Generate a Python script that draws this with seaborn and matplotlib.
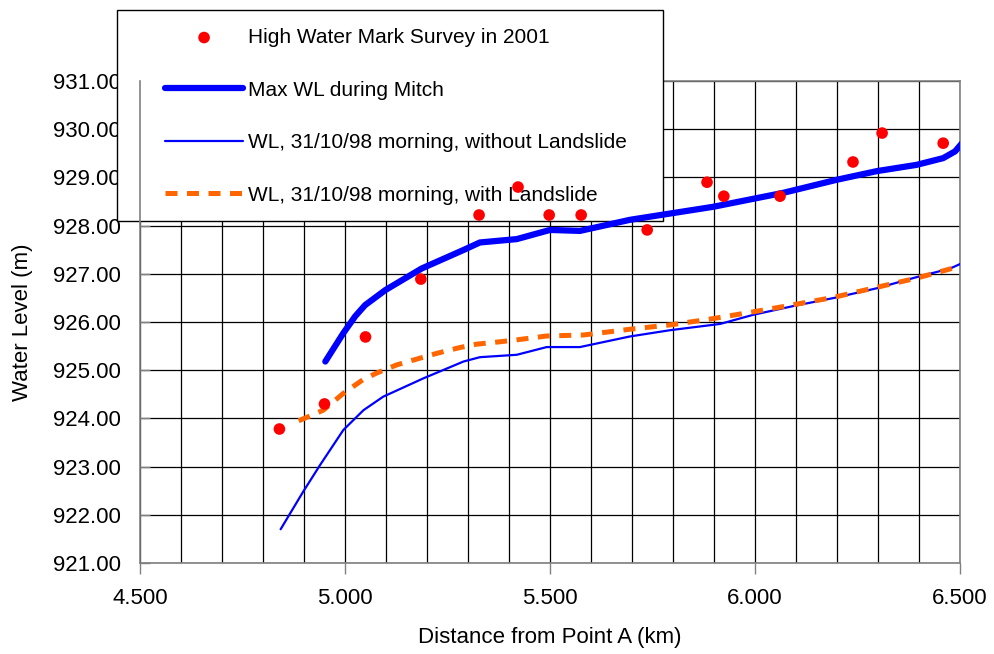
import numpy as np
import pandas as pd
import matplotlib
matplotlib.use("Agg")
import matplotlib.pyplot as plt
import seaborn as sns
from matplotlib.patches import Rectangle
from matplotlib.ticker import MultipleLocator, FormatStrFormatter

# ---- data ----
survey_x = [4.84, 4.95, 5.05, 5.185, 5.327, 5.422, 5.498, 5.576, 5.737, 5.883, 5.924, 6.061, 6.239, 6.31, 6.459]
survey_y = [923.78, 924.30, 925.69, 926.89, 928.22, 928.80, 928.22, 928.22, 927.91, 928.90, 928.61, 928.61, 929.32, 929.92, 929.71]

maxwl_x = [4.952, 4.996, 5.025, 5.049, 5.098, 5.187, 5.288, 5.329, 5.419, 5.500, 5.573, 5.695, 5.785, 5.898, 6.069, 6.199, 6.297, 6.394, 6.459, 6.488, 6.51]
maxwl_y = [925.18, 925.77, 926.12, 926.35, 926.66, 927.11, 927.49, 927.65, 927.72, 927.91, 927.89, 928.12, 928.24, 928.39, 928.68, 928.95, 929.13, 929.26, 929.40, 929.54, 929.76]

nols_x = [4.843, 4.898, 4.939, 4.996, 5.045, 5.093, 5.191, 5.289, 5.329, 5.419, 5.492, 5.573, 5.695, 5.793, 5.915, 5.996, 6.093, 6.199, 6.297, 6.394, 6.476, 6.51]
nols_y = [921.70, 922.48, 923.03, 923.76, 924.17, 924.45, 924.83, 925.18, 925.27, 925.32, 925.48, 925.48, 925.70, 925.83, 925.96, 926.15, 926.33, 926.51, 926.70, 926.93, 927.11, 927.24]

ls_x = [4.887, 4.947, 4.996, 5.045, 5.077, 5.126, 5.183, 5.224, 5.280, 5.321, 5.378, 5.419, 5.492, 5.581, 5.695, 5.793, 5.890, 5.988, 6.069, 6.191, 6.297, 6.394, 6.51]
ls_y = [923.95, 924.17, 924.52, 924.81, 924.94, 925.11, 925.25, 925.35, 925.47, 925.54, 925.59, 925.63, 925.71, 925.73, 925.85, 925.94, 926.06, 926.20, 926.32, 926.51, 926.72, 926.91, 927.18]

labels = ["High Water Mark Survey in 2001", "Max WL during Mitch",
          "WL, 31/10/98 morning, without Landslide", "WL, 31/10/98 morning, with Landslide"]
x_ticks = [4.5, 5.0, 5.5, 6.0, 6.5]
y_ticks = [921, 922, 923, 924, 925, 926, 927, 928, 929, 930, 931]

sns.set_style("white")
plt.rcParams['font.family'] = ['Liberation Sans', 'DejaVu Sans']
plt.rcParams['text.color'] = 'black'
plt.rcParams['axes.labelcolor'] = 'black'
plt.rcParams['xtick.labelcolor'] = 'black'
plt.rcParams['ytick.labelcolor'] = 'black'

W, H = 994, 654
fig = plt.figure(figsize=(W / 100, H / 100), dpi=100)
ax = fig.add_axes([140 / W, 1 - 563 / H, 820 / W, 482 / H])

df_max = pd.DataFrame({"x": maxwl_x, "y": maxwl_y})
df_no = pd.DataFrame({"x": nols_x, "y": nols_y})
df_ls = pd.DataFrame({"x": ls_x, "y": ls_y})
df_sv = pd.DataFrame({"x": survey_x, "y": survey_y})

sns.lineplot(data=df_max, x="x", y="y", ax=ax, sort=False, estimator=None,
             color="#0000FF", lw=4.5, zorder=3)
sns.lineplot(data=df_no, x="x", y="y", ax=ax, sort=False, estimator=None,
             color="#0000FF", lw=1.6, zorder=3)
sns.lineplot(data=df_ls, x="x", y="y", ax=ax, sort=False, estimator=None,
             color="#FF6600", lw=3.6, zorder=3, dashes=False)
ax.lines[-1].set_dashes([2.4, 1.9])
sns.scatterplot(data=df_sv, x="x", y="y", ax=ax, color="#FF0000", s=70,
                edgecolor="none", zorder=4)

ax.set_xlim(4.5, 6.5)
ax.set_ylim(921, 931)
ax.set_xticks(x_ticks)
ax.set_yticks(y_ticks)
ax.xaxis.set_minor_locator(MultipleLocator(0.1))
ax.xaxis.set_major_formatter(FormatStrFormatter('%.3f'))
ax.yaxis.set_major_formatter(FormatStrFormatter('%.2f'))
ax.grid(True, which='both', axis='x', color='black', lw=0.9, zorder=0.5)
ax.grid(True, which='major', axis='y', color='black', lw=0.9, zorder=0.5)
ax.set_axisbelow(True)

ax.tick_params(axis='x', which='major', direction='out', length=8, width=1,
               color='#808080', labelsize=16, pad=10, bottom=True, labelcolor='black')
ax.tick_params(axis='x', which='minor', length=0)
ax.tick_params(axis='y', which='major', direction='in', length=7, width=1,
               color='#808080', labelsize=16, pad=14, left=True, labelcolor='black')
for s in ax.spines.values():
    s.set_color('#808080')
    s.set_linewidth(1.2)
ax.spines['top'].set_zorder(1)

ax.set_xlabel("Distance from Point A (km)", fontsize=16, color='black')
ax.set_ylabel("Water Level (m)", fontsize=16, color='black')
ax.xaxis.label.set_va('center')
ax.yaxis.label.set_va('center')
ax.xaxis.set_label_coords(0.5, (563 - 637) / 482)
ax.yaxis.set_label_coords((22 - 140) / 820, 0.5)

# legend frame
rect = Rectangle((117 / W, 1 - 221 / H), 546 / W, 211 / H, transform=fig.transFigure,
                 facecolor='white', edgecolor='black', lw=1.0, clip_on=False, zorder=1.4)
ax.add_artist(rect)

handles = [ax.collections[0], ax.lines[0], ax.lines[1], ax.lines[2]]
leg = ax.legend(handles, labels, loc='upper left',
                bbox_to_anchor=(165 / W, 1 - 28 / H), bbox_transform=fig.transFigure,
                frameon=False, fontsize=15, handlelength=3.75, handletextpad=0.25,
                borderpad=0, borderaxespad=0, labelspacing=1.61, markerscale=1.0)
for t in leg.get_texts():
    t.set_color('black')
leg.set_zorder(1.5)

fig.savefig("out.png", dpi=100)
